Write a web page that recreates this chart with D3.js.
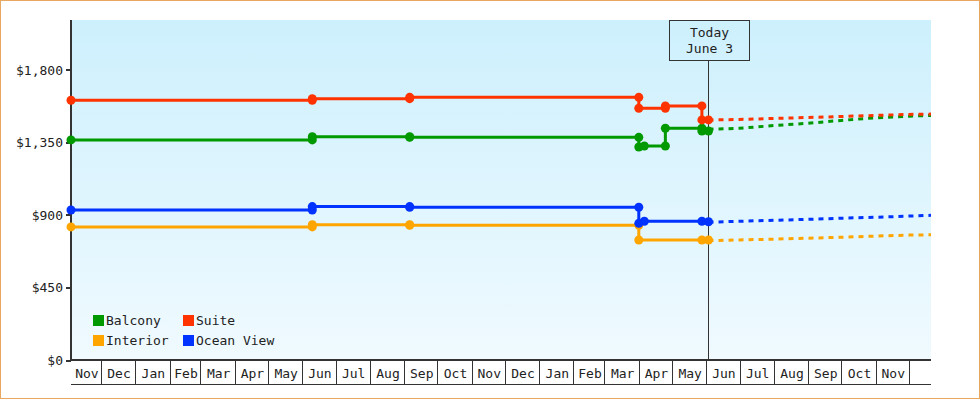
<!DOCTYPE html>
<html>
<head>
<meta charset="utf-8">
<script src="https://cdn.jsdelivr.net/npm/d3@7"></script>
<style>
  body { margin: 0; background: #fff; }
  text { font-family: "DejaVu Sans Mono", monospace; font-size: 13px; fill: #222; }
</style>
</head>
<body>
<svg id="chart" width="980" height="400"></svg>
<script>
  // price history, one array per cabin type: [date, price]
  const balconyHistory = [
    ["2012-11-04", 1366], ["2013-06-10", 1366], ["2013-06-10", 1386],
    ["2013-09-06", 1386], ["2013-09-06", 1382], ["2014-04-01", 1382],
    ["2014-04-01", 1322], ["2014-04-06", 1328], ["2014-04-25", 1328],
    ["2014-04-25", 1438], ["2014-05-28", 1438], ["2014-05-28", 1421],
    ["2014-06-03", 1421]
  ];
  const suiteHistory = [
    ["2012-11-04", 1612], ["2013-06-10", 1612], ["2013-06-10", 1622],
    ["2013-09-06", 1622], ["2013-09-06", 1630], ["2014-04-01", 1630],
    ["2014-04-01", 1562], ["2014-04-25", 1562], ["2014-04-25", 1577],
    ["2014-05-28", 1577], ["2014-05-28", 1490], ["2014-06-03", 1490]
  ];
  const interiorHistory = [
    ["2012-11-04", 826], ["2013-06-10", 826], ["2013-06-10", 840],
    ["2013-09-06", 840], ["2013-09-06", 836], ["2014-04-01", 836],
    ["2014-04-01", 745], ["2014-05-28", 745], ["2014-06-03", 745]
  ];
  const oceanHistory = [
    ["2012-11-04", 931], ["2013-06-10", 931], ["2013-06-10", 952],
    ["2013-09-06", 952], ["2013-09-06", 948], ["2014-04-01", 948],
    ["2014-04-01", 848], ["2014-04-06", 861], ["2014-05-28", 861],
    ["2014-06-03", 858]
  ];

  // forecast after today
  const forecastDates = ["2014-06-03", "2014-07-01", "2014-08-01", "2014-09-01",
                         "2014-10-01", "2014-11-01", "2014-12-01", "2014-12-21"];
  const balconyForecast = [1432, 1438, 1455, 1469, 1487, 1503, 1513, 1518];
  const suiteForecast = [1489, 1493, 1499, 1505, 1511, 1518, 1524, 1526];
  const interiorForecast = [741, 745, 750, 756, 762, 769, 775, 777];
  const oceanForecast = [855, 861, 867, 873, 880, 886, 893, 898];

  const seriesNames = ["Balcony", "Suite", "Interior", "Ocean View"];
  const seriesColors = ["#009900", "#ff3300", "#ffa500", "#0033ff"];

  const yTicks = [0, 450, 900, 1350, 1800];
  const dateStart = "2012-11-04", dateEnd = "2014-12-21", today = "2014-06-03";
  const todayLabel = ["Today", "June 3"];

  const parse = d3.timeParse("%Y-%m-%d");
  const svg = d3.select("#chart");

  const plotLeft = 71, plotRight = 931, plotTop = 20, plotBottom = 360;

  const x = d3.scaleTime()
    .domain([parse(dateStart), parse(dateEnd)])
    .range([plotLeft, plotRight]);
  const y = d3.scaleLinear()
    .domain([0, 2110])
    .range([plotBottom, plotTop]);

  // frame
  svg.append("rect")
    .attr("x", 0.5).attr("y", 0.5)
    .attr("width", 979).attr("height", 398)
    .attr("fill", "#fff")
    .attr("stroke", "#e9a862");

  const grad = svg.append("defs").append("linearGradient")
    .attr("id", "bg").attr("x1", 0).attr("y1", 0).attr("x2", 0).attr("y2", 1);
  grad.append("stop").attr("offset", "0%").attr("stop-color", "#cdf0fd");
  grad.append("stop").attr("offset", "100%").attr("stop-color", "#f0faff");

  svg.append("rect")
    .attr("x", plotLeft).attr("y", plotTop)
    .attr("width", plotRight - plotLeft).attr("height", plotBottom - plotTop)
    .attr("fill", "url(#bg)");

  // month cells under the plot
  const monthStarts = d3.timeMonth.range(x.domain()[0], x.domain()[1]);
  const bounds = [x.domain()[0]].concat(monthStarts, [x.domain()[1]]);
  const cells = d3.pairs(bounds);
  const xg = svg.append("g").attr("shape-rendering", "crispEdges");

  xg.selectAll("line.div")
    .data(monthStarts)
    .join("line")
      .attr("class", "div")
      .attr("x1", d => Math.round(x(d)) + 0.5)
      .attr("x2", d => Math.round(x(d)) + 0.5)
      .attr("y1", plotBottom).attr("y2", 385)
      .attr("stroke", "#333");

  xg.selectAll("text")
    .data(cells.filter(c => x(c[1]) - x(c[0]) >= 25))
    .join("text")
      .attr("x", c => (x(c[0]) + x(c[1])) / 2 + 1)
      .attr("y", 378)
      .attr("text-anchor", "middle")
      .text(c => d3.timeFormat("%b")(c[0]));

  xg.append("line")
    .attr("x1", plotLeft).attr("x2", plotRight)
    .attr("y1", 384.5).attr("y2", 384.5)
    .attr("stroke", "#333");

  xg.append("line")
    .attr("x1", plotLeft).attr("x2", plotRight)
    .attr("y1", plotBottom).attr("y2", plotBottom)
    .attr("stroke", "#333").attr("stroke-width", 2);

  // y axis
  const yAxis = d3.axisLeft(y)
    .tickValues(yTicks)
    .tickSize(5)
    .tickPadding(3)
    .tickFormat(d => "$" + d3.format(",")(d));

  svg.append("g")
    .attr("transform", `translate(${plotLeft},0)`)
    .attr("shape-rendering", "crispEdges")
    .call(yAxis)
    .call(g => g.select(".domain").remove())
    .call(g => g.selectAll(".tick line").attr("stroke", "#333").attr("stroke-width", 2))
    .call(g => g.selectAll(".tick text")
      .attr("font-family", "DejaVu Sans Mono").attr("font-size", 13).attr("fill", "#222"));

  svg.append("line")
    .attr("x1", plotLeft).attr("x2", plotLeft)
    .attr("y1", plotTop).attr("y2", plotBottom + 1)
    .attr("stroke", "#333").attr("stroke-width", 2)
    .attr("shape-rendering", "crispEdges");

  // today marker
  const tx = Math.round(x(parse(today))) - 0.5;
  svg.append("line")
    .attr("x1", tx).attr("x2", tx)
    .attr("y1", 60).attr("y2", plotBottom)
    .attr("stroke", "#333")
    .attr("shape-rendering", "crispEdges");
  svg.append("rect")
    .attr("x", tx - 39.5).attr("y", plotTop + 0.5)
    .attr("width", 80).attr("height", 40)
    .attr("fill", "none").attr("stroke", "#333")
    .attr("shape-rendering", "crispEdges");
  svg.selectAll("text.today")
    .data(todayLabel)
    .join("text")
      .attr("class", "today")
      .attr("x", tx + 1)
      .attr("y", (d, i) => 37 + i * 16)
      .attr("text-anchor", "middle")
      .text(d => d);

  // series
  const histories = [balconyHistory, suiteHistory, interiorHistory, oceanHistory];
  const forecasts = [balconyForecast, suiteForecast, interiorForecast, oceanForecast];
  const drawOrder = [2, 0, 1, 3];

  const line = d3.line()
    .x(d => x(parse(d[0])))
    .y(d => y(d[1]));

  drawOrder.forEach(i => {
    const g = svg.append("g");
    const fc = forecastDates.map((d, j) => [d, forecasts[i][j]]);

    g.append("path")
      .datum(fc)
      .attr("d", line)
      .attr("fill", "none")
      .attr("stroke", seriesColors[i])
      .attr("stroke-width", 3)
      .attr("stroke-dasharray", "5,5");

    g.append("path")
      .datum(histories[i])
      .attr("d", line)
      .attr("fill", "none")
      .attr("stroke", seriesColors[i])
      .attr("stroke-width", 3);

    g.selectAll("circle")
      .data(histories[i])
      .join("circle")
        .attr("cx", d => x(parse(d[0])))
        .attr("cy", d => y(d[1]))
        .attr("r", 4.5)
        .attr("fill", seriesColors[i]);
  });

  // legend
  const legend = svg.append("g").attr("transform", "translate(93,315)");
  const items = legend.selectAll("g")
    .data(seriesNames)
    .join("g")
      .attr("transform", (d, i) => `translate(${(i % 2) * 90},${Math.floor(i / 2) * 20})`);
  items.append("rect")
    .attr("width", 11).attr("height", 11)
    .attr("fill", (d, i) => seriesColors[i]);
  items.append("text")
    .attr("x", 13).attr("y", 10)
    .text(d => d);
</script>
</body>
</html>
